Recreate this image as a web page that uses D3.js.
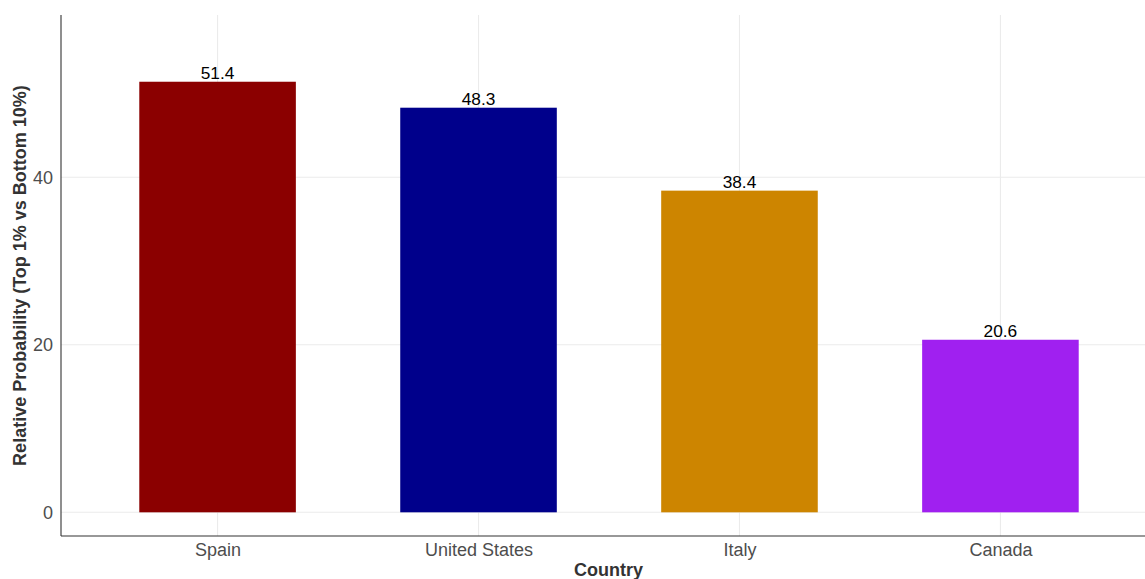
<!DOCTYPE html>
<html>
<head>
<meta charset="utf-8">
<script src="https://cdn.jsdelivr.net/npm/d3@7"></script>
<style>
  html, body { margin: 0; padding: 0; background: #fff; }
  svg { display: block; font-family: "Liberation Sans", Arial, sans-serif; }
</style>
</head>
<body>
<svg id="chart" width="1145" height="579"></svg>
<script>
// Relative probability of being in the top 1% vs the bottom 10%, by country
const countries = ["Spain", "United States", "Italy", "Canada"];
const values = [51.4, 48.3, 38.4, 20.6];
const barColors = ["#8B0000", "#00008B", "#CD8500", "#A020F0"];
const yTicks = [0, 20, 40];

const svg = d3.select("#chart");
const panel = { left: 61, right: 1157, top: 15, bottom: 536 };
const FONT = "Liberation Sans, Arial, sans-serif";

// y range: 0 .. max*1.1, padded 5% each way
const yMax = d3.max(values) * 1.1;
const pad = yMax * 0.05;
const y = d3.scaleLinear()
  .domain([-pad, yMax + pad])
  .range([panel.bottom, panel.top]);

// discrete x: 0.6 band expansion on each side, bars 60% of a step
const step = (panel.right - panel.left) / (countries.length - 1 + 1.2);
const x = d3.scalePoint()
  .domain(countries)
  .range([panel.left + 0.6 * step, panel.right - 0.6 * step]);
const barW = step * 0.6;

const g = svg.append("g");

// grid lines
g.selectAll(".hgrid").data(yTicks).join("line")
  .attr("x1", panel.left).attr("x2", panel.right)
  .attr("y1", d => y(d)).attr("y2", d => y(d))
  .attr("stroke", "#EBEBEB").attr("stroke-width", 1.1);
g.selectAll(".vgrid").data(countries).join("line")
  .attr("x1", d => x(d)).attr("x2", d => x(d))
  .attr("y1", panel.top).attr("y2", panel.bottom)
  .attr("stroke", "#EBEBEB").attr("stroke-width", 1.1);

// bars
g.selectAll(".bar").data(countries).join("rect")
  .attr("x", d => x(d) - barW / 2)
  .attr("width", barW)
  .attr("y", (d, i) => y(values[i]))
  .attr("height", (d, i) => y(0) - y(values[i]))
  .attr("fill", (d, i) => barColors[i]);

// value labels
g.selectAll(".lbl").data(countries).join("text")
  .attr("x", d => x(d))
  .attr("y", (d, i) => y(values[i]) - 3)
  .attr("text-anchor", "middle")
  .attr("font-size", 17.3)
  .attr("font-family", FONT)
  .attr("fill", "#000")
  .text((d, i) => values[i].toFixed(1));

// axes
const yAxis = d3.axisLeft(y).tickValues(yTicks).tickSize(0).tickPadding(8);
const yG = svg.append("g").attr("transform", `translate(${panel.left},0)`).call(yAxis);
yG.select(".domain").remove();
yG.selectAll("text").attr("font-size", 18).attr("fill", "#4D4D4D")
  .attr("font-family", FONT);

const xAxis = d3.axisBottom(x).tickSize(0).tickPadding(7);
const xG = svg.append("g").attr("transform", `translate(0,${panel.bottom})`).call(xAxis);
xG.select(".domain").remove();
xG.selectAll("text").attr("font-size", 18).attr("fill", "#4D4D4D")
  .attr("font-family", FONT);

// axis lines
svg.append("line")
  .attr("x1", panel.left).attr("x2", panel.left)
  .attr("y1", panel.top).attr("y2", panel.bottom)
  .attr("stroke", "#333").attr("stroke-width", 1.1);
svg.append("line")
  .attr("x1", panel.left).attr("x2", panel.right)
  .attr("y1", panel.bottom).attr("y2", panel.bottom)
  .attr("stroke", "#333").attr("stroke-width", 1.1);

// axis titles
svg.append("text")
  .attr("x", 608.5)
  .attr("y", 576)
  .attr("text-anchor", "middle")
  .attr("font-size", 18)
  .attr("font-weight", "bold")
  .attr("font-family", FONT)
  .attr("fill", "#333")
  .text("Country");

svg.append("text")
  .attr("transform", `translate(26,${(panel.top + panel.bottom) / 2}) rotate(-90)`)
  .attr("text-anchor", "middle")
  .attr("font-size", 18)
  .attr("font-weight", "bold")
  .attr("font-family", FONT)
  .attr("fill", "#333")
  .text("Relative Probability (Top 1% vs Bottom 10%)");
</script>
</body>
</html>
